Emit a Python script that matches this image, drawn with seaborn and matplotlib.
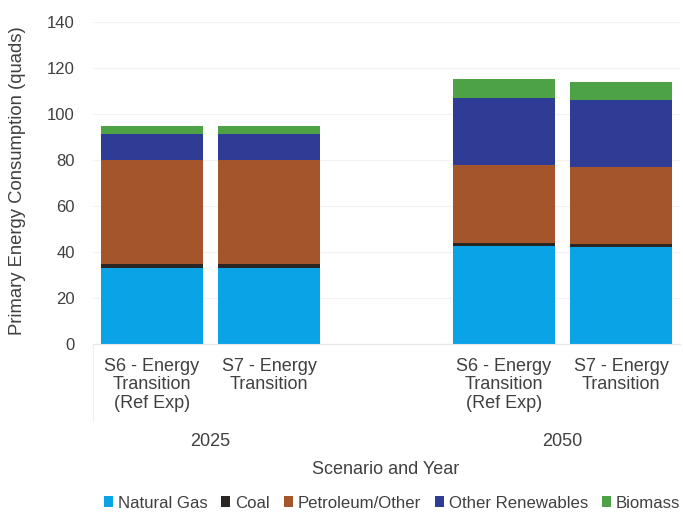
import matplotlib
matplotlib.use("Agg")
import matplotlib.pyplot as plt
import matplotlib.transforms as mtransforms
from matplotlib.patches import Patch
import pandas as pd
import seaborn as sns

# Scenario bars and their fuel breakdown (quads)
years = ["2025", "2025", "2050", "2050"]
scenarios = ["S6 - Energy\nTransition\n(Ref Exp)", "S7 - Energy\nTransition",
             "S6 - Energy\nTransition\n(Ref Exp)", "S7 - Energy\nTransition"]
fuels = ["Natural Gas", "Coal", "Petroleum/Other", "Other Renewables", "Biomass"]
natural_gas = [33.2, 33.2, 42.6, 42.3]
coal = [1.7, 1.7, 1.3, 1.2]
petroleum_other = [45.0, 45.0, 34.0, 33.5]
other_renewables = [11.5, 11.5, 29.0, 29.0]
biomass = [3.3, 3.3, 8.4, 8.0]

colors = ["#0AA3E6", "#2A2624", "#A5552C", "#2F3C95", "#4DA246"]
series = [natural_gas, coal, petroleum_other, other_renewables, biomass]

keys = [f"{y}|{i}" for i, y in enumerate(years)]
order = [keys[0], keys[1], "gap", keys[2], keys[3]]

rows = []
for fuel, vals in zip(fuels, series):
    for k, v in zip(keys, vals):
        rows.append({"bar": k, "fuel": fuel, "value": v})
df = pd.DataFrame(rows)
df["top"] = df.groupby("bar")["value"].cumsum()

sns.set_theme(style="white")
plt.rcParams["font.family"] = ["Liberation Sans", "DejaVu Sans"]
text_color = "#404040"

fig = plt.figure(figsize=(6.83, 5.13), dpi=100)
ax = fig.add_axes([93 / 683, 1 - 344 / 513, 587 / 683, 322 / 513])

# Stack by drawing cumulative totals, tallest layer first
for fuel, color in reversed(list(zip(fuels, colors))):
    sub = df[df["fuel"] == fuel]
    sns.barplot(data=sub, x="bar", y="top", order=order, color=color,
                saturation=1, width=0.87, errorbar=None, linewidth=0, ax=ax)

ax.set_ylim(0, 140)
ax.set_xlim(-0.5, 4.5)
ax.set_yticks(range(0, 141, 20))
ax.yaxis.grid(True, color="#f2f2f2", linewidth=0.8)
ax.set_axisbelow(True)
for s in ["top", "right", "left"]:
    ax.spines[s].set_visible(False)
ax.spines["bottom"].set_color("#e6e6e6")
ax.spines["bottom"].set_linewidth(0.8)

ax.set_xticks([0, 1, 3, 4])
ax.set_xticklabels(scenarios, linespacing=1.12)
ax.tick_params(axis="x", length=0, pad=10, labelsize=13, labelcolor=text_color)
ax.tick_params(axis="y", length=0, pad=13, labelsize=12, labelcolor=text_color)
for lbl in ax.get_xticklabels():
    lbl.set_verticalalignment("top")
ax.set_xlabel("")
ax.set_ylabel("")

# Year labels under each group
trans = mtransforms.blended_transform_factory(ax.transData, fig.transFigure)
for xpos, year in [(0.5, "2025"), (3.5, "2050")]:
    ax.text(xpos, 1 - 442 / 513, year, transform=trans, ha="center", va="center",
            fontsize=13, color=text_color)

# Faint group separator of the category axis
sep_trans = mtransforms.blended_transform_factory(ax.transData, ax.transAxes)
ax.plot([-0.5, -0.5], [0, -0.24], transform=sep_trans,
        color="#f0f0f0", linewidth=0.8, clip_on=False)

fig.text(386 / 683, 1 - 469 / 513, "Scenario and Year", ha="center", va="center",
         fontsize=13, color=text_color)
fig.text(18 / 683, 1 - 181 / 513, "Primary Energy Consumption (quads)", ha="center",
         va="center", rotation=90, fontsize=13.3, color=text_color)

handles = [Patch(facecolor=c, edgecolor="none", label=f) for f, c in zip(fuels, colors)]
fig.legend(handles=handles, loc="center", bbox_to_anchor=(392 / 683, 1 - 503 / 513),
           ncol=5, frameon=False, fontsize=12.1, handlelength=0.55, handleheight=0.55,
           handletextpad=0.3, columnspacing=0.8, labelcolor=text_color, borderaxespad=0)

fig.savefig("out.png", dpi=100)
